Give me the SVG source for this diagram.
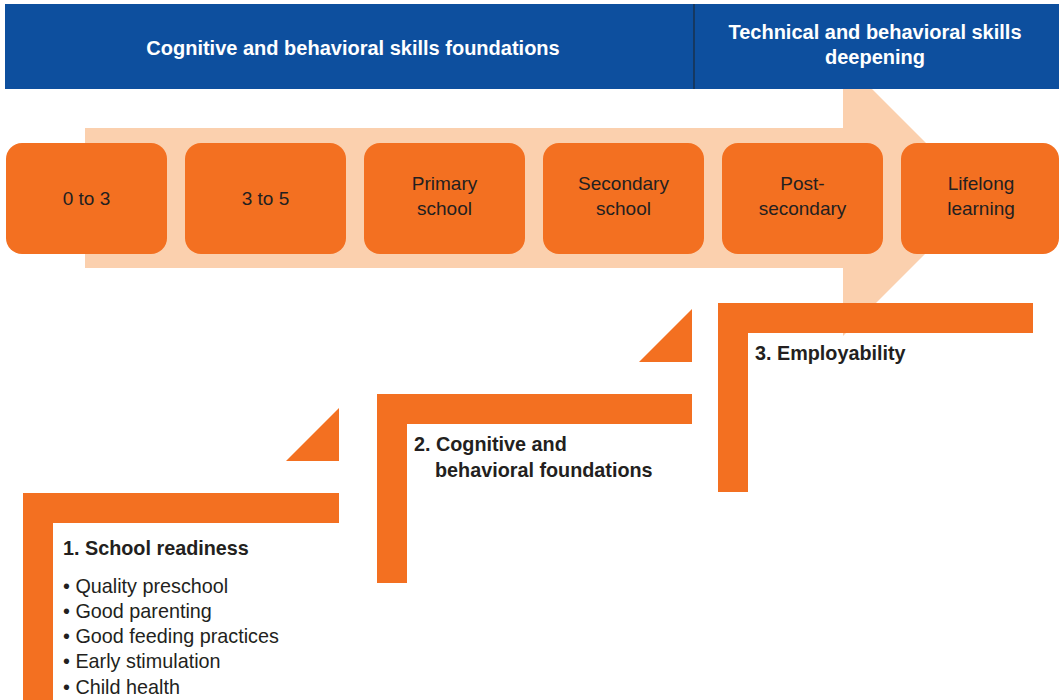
<svg xmlns="http://www.w3.org/2000/svg" width="1059" height="700" viewBox="0 0 1059 700">
<style>
.box{fill:#F37021}
.bt{font-family:"Liberation Sans",Arial,sans-serif;font-size:19px;fill:#231F20;text-anchor:middle}
.hd{font-family:"Liberation Sans",Arial,sans-serif;font-size:20px;font-weight:bold;fill:#FFFFFF;text-anchor:middle}
.st{fill:#F37021}
.tt{font-family:"Liberation Sans",Arial,sans-serif;font-size:19.8px;font-weight:bold;fill:#231F20}
.li{font-family:"Liberation Sans",Arial,sans-serif;font-size:19.8px;fill:#231F20}
</style>
<rect width="1059" height="700" fill="#FFFFFF"/>
<g id="arrow">
<polygon points="85,128 843,128 843,60 981,198 843,336 843,268 85,268" fill="#FBD0AE"/>
</g>
<g id="header">
<rect x="5" y="4" width="1054" height="85" fill="#0D4F9E"/>
<line x1="694" y1="4" x2="694" y2="89" stroke="#1B2A3A" stroke-width="1.2"/>
<text class="hd" x="353" y="55">Cognitive and behavioral skills foundations</text>
<text class="hd" x="875" y="39">Technical and behavioral skills</text>
<text class="hd" x="875" y="64">deepening</text>
</g>
<g id="box-0to3"><rect class="box" x="6" y="143" width="161" height="111" rx="16"/><text class="bt" x="86.5" y="205">0 to 3</text></g>
<g id="box-3to5"><rect class="box" x="185" y="143" width="161" height="111" rx="16"/><text class="bt" x="265.5" y="205">3 to 5</text></g>
<g id="box-primary"><rect class="box" x="364" y="143" width="161" height="111" rx="16"/><text class="bt" x="444.5" y="190">Primary</text><text class="bt" x="444.5" y="215">school</text></g>
<g id="box-secondary"><rect class="box" x="543" y="143" width="161" height="111" rx="16"/><text class="bt" x="623.5" y="190">Secondary</text><text class="bt" x="623.5" y="215">school</text></g>
<g id="box-postsecondary"><rect class="box" x="722" y="143" width="161" height="111" rx="16"/><text class="bt" x="802.5" y="190">Post-</text><text class="bt" x="802.5" y="215">secondary</text></g>
<g id="box-lifelong"><rect class="box" x="901" y="143" width="158" height="111" rx="16"/><text class="bt" x="981" y="190">Lifelong</text><text class="bt" x="981" y="215">learning</text></g>
<g id="step1">
<polygon class="st" points="23,493 339,493 339,523 53,523 53,700 23,700"/>
<text class="tt" x="63" y="555">1. School readiness</text>
<text class="li" x="63" y="593">• Quality preschool</text>
<text class="li" x="63" y="618">• Good parenting</text>
<text class="li" x="63" y="643">• Good feeding practices</text>
<text class="li" x="63" y="668">• Early stimulation</text>
<text class="li" x="63" y="694">• Child health</text>
</g>
<g id="tri1"><polygon class="st" points="339,408 339,461 286,461"/></g>
<g id="step2">
<polygon class="st" points="377,394 692,394 692,424 407,424 407,583 377,583"/>
<text class="tt" x="414" y="451">2. Cognitive and</text>
<text class="tt" x="435" y="477">behavioral foundations</text>
</g>
<g id="tri2"><polygon class="st" points="692,309 692,362 639,362"/></g>
<g id="step3">
<polygon class="st" points="718,303 1033,303 1033,333 748,333 748,492 718,492"/>
<text class="tt" x="755" y="360">3. Employability</text>
</g>
<g id="connectors"></g>
</svg>
